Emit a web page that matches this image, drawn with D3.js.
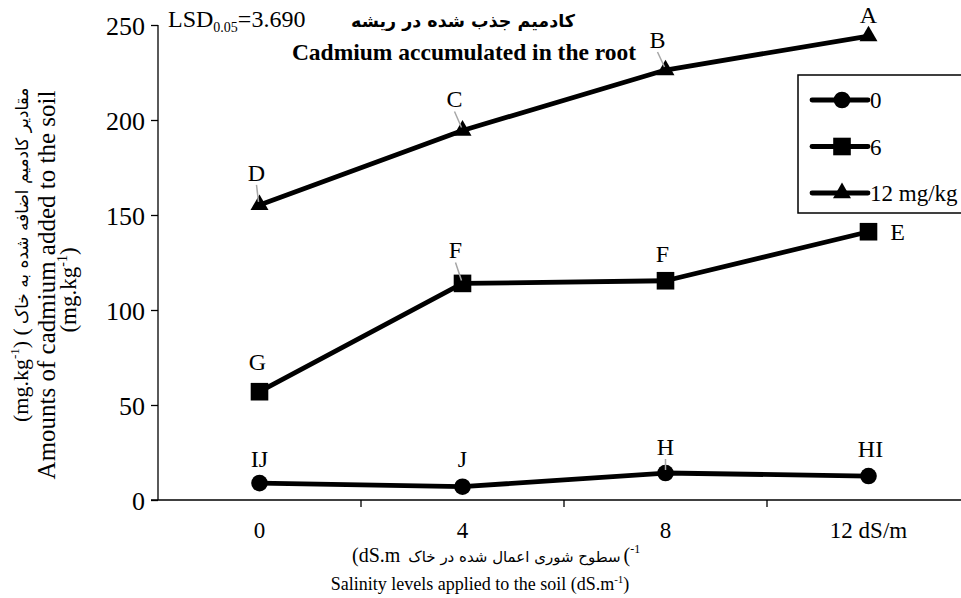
<!DOCTYPE html>
<html><head><meta charset="utf-8">
<script src="https://cdn.jsdelivr.net/npm/d3@7"></script>
<style>
html,body{margin:0;padding:0;background:#fff;}
svg{display:block;}
text{font-family:"Liberation Serif","Times New Roman",serif;fill:#000;}
text.fa{font-family:"DejaVu Sans",sans-serif;}
</style></head><body>
<svg id="c" width="961" height="598"></svg>
<script>
// ---- data ----
const salinity = ["0", "4", "8", "12 dS/m"];
const seriesNames = ["0", "6", "12 mg/kg"];
const cd0  = [8.9, 7.0, 14.2, 12.6];
const cd6  = [57.0, 114.0, 115.4, 141.2];
const cd12 = [155.3, 194.5, 226.3, 244.2];
const letters0  = ["IJ", "J", "H", "HI"];
const letters6  = ["G", "F", "F", "E"];
const letters12 = ["D", "C", "B", "A"];
const yTicks = [0, 50, 100, 150, 200, 250];

const SERIF = "Liberation Serif, Times New Roman, serif";
const svg = d3.select("#c");
const x = d3.scaleBand().domain(salinity).range([158, 970]).padding(0);
const y = d3.scaleLinear().domain([0, 250]).range([500, 25]);
const cx = c => x(c) + x.bandwidth() / 2;

// axes
const yAxis = d3.axisLeft(y).tickValues(yTicks).tickSize(7).tickPadding(6);
const gy = svg.append("g").attr("transform", "translate(158,0)").call(yAxis);
gy.attr("font-family", SERIF).attr("font-size", 26);
gy.select(".domain").attr("stroke", "#000").attr("stroke-width", 1.3).attr("d", "M0,25V500");
gy.selectAll(".tick line").attr("stroke", "#000").attr("stroke-width", 1.3);
gy.selectAll(".tick text").attr("dy", "0.35em");

const xAxis = d3.axisBottom(x).tickSize(0).tickPadding(0);
const gx = svg.append("g").attr("transform", "translate(0,500)").call(xAxis);
gx.attr("font-family", SERIF).attr("font-size", 23);
gx.select(".domain").attr("stroke", "#000").attr("stroke-width", 1.3).attr("d", "M151,0H970");
gx.selectAll(".tick text").attr("dy", 0).attr("y", 38);
// boundary ticks between categories
const bounds = salinity.slice(1).map(c => x(c)).concat([x.range()[1]]);
svg.append("g").selectAll("line").data(bounds).join("line")
  .attr("x1", d => d).attr("x2", d => d)
  .attr("y1", 500).attr("y2", 507).attr("stroke", "#000").attr("stroke-width", 1.3);

// series
const series = [
  {vals: cd0, letters: letters0, sym: d3.symbolCircle, size: 217},
  {vals: cd6, letters: letters6, sym: d3.symbolSquare, size: 310},
  {vals: cd12, letters: letters12, sym: d3.symbolTriangle, size: 140}
];
const line = d3.line().x(d => cx(d.c)).y(d => y(d.v));
series.forEach(s => {
  const pts = salinity.map((c, i) => ({c, v: s.vals[i]}));
  svg.append("path").datum(pts).attr("d", line).attr("fill", "none")
    .attr("stroke", "#000").attr("stroke-width", 4.8).attr("stroke-linejoin", "round");
  svg.append("g").selectAll("path").data(pts).join("path")
    .attr("d", d3.symbol().type(s.sym).size(s.size))
    .attr("transform", d => `translate(${cx(d.c)},${y(d.v)})`)
    .attr("fill", "#000");
});

// significance letters (offset of label baseline from its point)
const labelOffsets = [
  [[0, -16], [0, -20], [0, -18], [2, -19]],
  [[-2, -22], [-7, -25], [-3, -19], [29, 8]],
  [[-3, -24], [-8, -23], [-8, -22], [0, -13]]
];
const leaders = [[2], [1], [0, 1, 2]];
series.forEach((s, si) => {
  salinity.forEach((c, i) => {
    const px = cx(c), py = y(s.vals[i]);
    const [dx, dy] = labelOffsets[si][i];
    svg.append("text").attr("x", px + dx).attr("y", py + dy)
      .attr("text-anchor", "middle").attr("font-size", 24).text(s.letters[i]);
    if (leaders[si].includes(i)) {
      svg.append("line").attr("x1", px + dx).attr("y1", py + dy + 4)
        .attr("x2", px - (dx ? 1 : 0)).attr("y2", py - 3)
        .attr("stroke", "#a6a6a6").attr("stroke-width", 1.5);
    }
  });
});

// legend
const lg = svg.append("g");
lg.append("rect").attr("x", 798).attr("y", 75).attr("width", 180).attr("height", 138)
  .attr("fill", "#fff").attr("stroke", "#000").attr("stroke-width", 1.5);
const legendY = d3.scalePoint().domain(seriesNames).range([100, 193]);
seriesNames.forEach((n, i) => {
  const ly = legendY(n);
  lg.append("line").attr("x1", 812).attr("x2", 868).attr("y1", ly).attr("y2", ly)
    .attr("stroke", "#000").attr("stroke-width", 4.8).attr("stroke-linecap", "round");
  lg.append("path").attr("d", d3.symbol().type(series[i].sym).size(series[i].size))
    .attr("transform", `translate(842,${ly})`).attr("fill", "#000");
  lg.append("text").attr("x", 870).attr("y", ly + 8).attr("font-size", 23).text(n);
});

// helper: lay out segments left to right as separate text elements
function runRow(parent, x0, yb, segs) {
  let xx = x0;
  segs.forEach(sg => {
    const t = parent.append("text").attr("x", xx).attr("y", yb + (sg.dy || 0))
      .attr("font-size", sg.size).text(sg.t);
    if (sg.fa) t.attr("class", "fa");
    if (sg.bold) t.attr("font-weight", "bold");
    xx += t.node().getComputedTextLength() + (sg.gap || 0);
  });
  return xx - x0;
}

// titles
runRow(svg, 168, 27, [
  {t: "LSD", size: 24}, {t: "0.05", size: 14, dy: 5}, {t: "=3.690", size: 24}
]);
svg.append("text").attr("class", "fa").attr("x", 463).attr("y", 27).attr("text-anchor", "middle")
  .attr("font-size", 17.5).attr("font-weight", "bold").text("کادمیم جذب شده در ریشه");
svg.append("text").attr("x", 464).attr("y", 60).attr("text-anchor", "middle")
  .attr("font-size", 23.5).attr("font-weight", "bold").text("Cadmium accumulated in the root");

// x axis titles
runRow(svg, 352, 562, [
  {t: "(dS.m", size: 20, gap: 8},
  {t: "سطوح شوری اعمال شده در خاک", size: 15, fa: true, gap: 3},
  {t: "(", size: 20}, {t: "-1", size: 12, dy: -9}
]);
const xt = svg.append("text").attr("x", 480).attr("y", 590).attr("text-anchor", "middle").attr("font-size", 18);
xt.append("tspan").text("Salinity levels applied to the soil (dS.m");
xt.append("tspan").attr("font-size", 11).attr("dy", -7).text("-1");
xt.append("tspan").attr("dy", 7).text(")");

// y axis titles
const yr = svg.append("g").attr("transform", "translate(28,0) rotate(-90)");
runRow(yr, -422, 0, [
  {t: "(mg.kg", size: 22}, {t: "-1", size: 13, dy: -9}, {t: ") (", size: 22, gap: 4},
  {t: "مقادیر کادمیم اضافه شده به خاک", size: 17, fa: true}
]);
svg.append("text").attr("transform", "translate(55,285) rotate(-90)").attr("text-anchor", "middle")
  .attr("font-size", 25).text("Amounts of cadmium added to the soil");
const yt3 = svg.append("text").attr("transform", "translate(76,290) rotate(-90)").attr("text-anchor", "middle").attr("font-size", 23);
yt3.append("tspan").text("(mg.kg");
yt3.append("tspan").attr("font-size", 14).attr("dy", -9).text("-1");
yt3.append("tspan").attr("dy", 9).text(")");
</script>
</body></html>
